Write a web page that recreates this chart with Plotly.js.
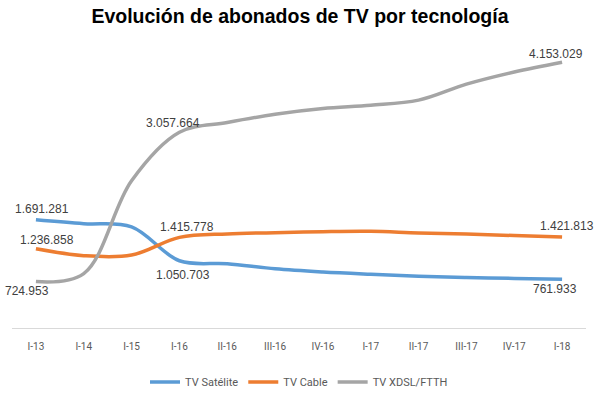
<!DOCTYPE html>
<html>
<head>
<meta charset="utf-8">
<script src="https://cdn.plot.ly/plotly-3.0.1.min.js"></script>
<style>html,body{margin:0;padding:0;background:#fff;}#chart{width:600px;height:397px;}</style>
</head>
<body>
<div id="chart"></div>
<script>
var quarters = ['I-13','I-14','I-15','I-16','II-16','III-16','IV-16','I-17','II-17','III-17','IV-17','I-18'];
var satelite = [1691281, 1630000, 1580000, 1050703, 1005000, 925000, 875000, 840000, 810000, 790000, 775000, 761933];
var cable    = [1236858, 1130000, 1140000, 1415778, 1470000, 1490000, 1505000, 1510000, 1485000, 1470000, 1445000, 1421813];
var xdsl     = [724953, 850000, 2300000, 3057664, 3210000, 3340000, 3430000, 3480000, 3560000, 3810000, 4000000, 4153029];
var seriesNames = ['TV Satélite', 'TV Cable', 'TV XDSL/FTTH'];
var labelIdx = [0, 3, 11];

function fmt(v){ return String(v).replace(/\B(?=(\d{3})+(?!\d))/g, '.'); }

var colors = ['#5B9BD5', '#ED7D31', '#A5A5A5'];
var allSeries = [satelite, cable, xdsl];
var traces = allSeries.map(function(s, k){
  return {type:'scatter', mode:'lines', name: seriesNames[k], x: quarters, y: s,
    line:{color: colors[k], width:3.5, shape:'spline', smoothing:1}, hoverinfo:'skip'};
});

// label offsets [series][labelIndex] = [xshift, yshift]
var shifts = [
  [[6, 11], [4, -14], [-7, -10]],
  [[11, 9], [8, 10], [5, 11]],
  [[-9, -9], [-6, 9], [-6, 8]]
];
var annotations = [];
allSeries.forEach(function(s, k){
  labelIdx.forEach(function(i, j){
    annotations.push({x: quarters[i], y: s[i], xref:'x', yref:'y', text: fmt(s[i]), showarrow:false,
      xshift: shifts[k][j][0], yshift: shifts[k][j][1],
      font:{family:'Liberation Sans, Arial, sans-serif', size:12, color:'#404040'}});
  });
});

var layout = {
  width:600, height:397,
  margin:{l:11.5, r:13.5, t:40, b:69},
  paper_bgcolor:'#fff', plot_bgcolor:'#fff',
  title:{text:'<b>Evolución de abonados de TV por tecnología</b>', x:0.5, xanchor:'center', y:0.958, yanchor:'middle', yref:'container',
    font:{family:'Liberation Sans, Arial, sans-serif', size:19.5, color:'#000'}},
  xaxis:{type:'category', range:[-0.5, quarters.length - 0.5], autorange:false, showgrid:false, zeroline:false, showline:true, linecolor:'#D9D9D9', linewidth:1,
    ticks:'', ticklabelstandoff:9, tickfont:{family:'Roboto, sans-serif', size:10, color:'#595959'}, fixedrange:true},
  yaxis:{range:[0, 4500000], autorange:false, visible:false, showgrid:false, zeroline:false, fixedrange:true},
  showlegend:true,
  legend:{orientation:'h', x:0.5, xanchor:'center', y:0.038, yref:'container', yanchor:'middle',
    font:{family:'Roboto, sans-serif', size:11, color:'#595959'}, itemwidth:30, tracegroupgap:0},
  annotations: annotations
};
Plotly.newPlot('chart', traces, layout, {displayModeBar:false, staticPlot:true});
</script>
</body>
</html>
